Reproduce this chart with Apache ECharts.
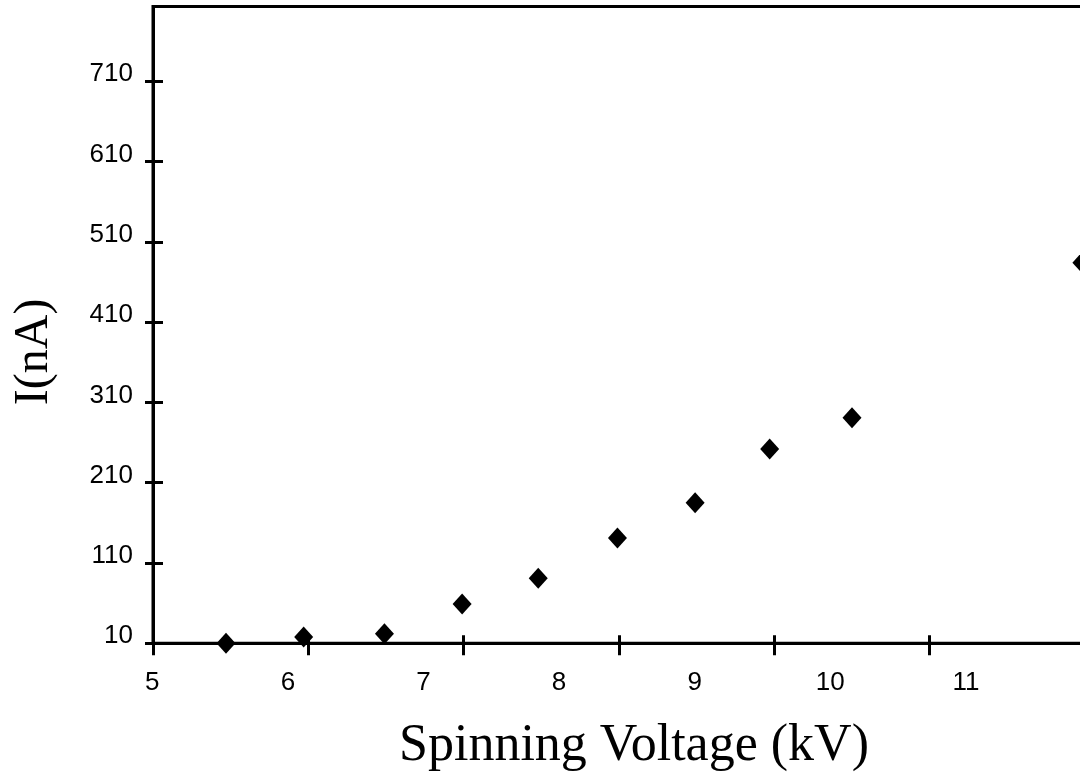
<!DOCTYPE html>
<html>
<head>
<meta charset="utf-8">
<script src="https://cdn.jsdelivr.net/npm/echarts@6/dist/echarts.min.js"></script>
<style>html,body{margin:0;padding:0;background:#fff}#c{width:1080px;height:775px}</style>
</head>
<body>
<div id="c"></div>
<script>
// Data
const voltage = [5.47, 5.97, 6.49, 6.99, 7.48, 7.99, 8.49, 8.97, 9.5, 10.98];
const current = [10, 18, 22, 59, 91, 141, 185, 252, 291, 484];
const yTicks = [10, 110, 210, 310, 410, 510, 610, 710];
const xTickLabels = [5, 6, 7, 8, 9, 10, 11];

const points = voltage.map((v, i) => [v, current[i]]);
const labelFont = 'Liberation Sans, Arial, sans-serif';
const titleFont = 'Liberation Serif, Times New Roman, serif';
const black = '#000';

const chart = echarts.init(document.getElementById('c'), null, {renderer: 'canvas'});
chart.setOption({
  backgroundColor: '#fff',
  animation: false,
  grid: [
    {left: 153, top: 6.5, width: 932, bottom: 131.7, show: true, borderColor: black, borderWidth: 3,
     backgroundColor: 'transparent', containLabel: false, outerBoundsMode: 'none'},
    {left: 152.3, top: 6.5, width: 813.6, bottom: 131.7, show: false, containLabel: false, outerBoundsMode: 'none'}
  ],
  xAxis: [
    {
      type: 'value', gridIndex: 0, min: 5, max: 11, interval: 1,
      name: 'Spinning Voltage (kV)', nameLocation: 'middle', nameGap: 77,
      nameTextStyle: {fontFamily: titleFont, fontSize: 52, color: black, padding: [0, 0, 0, 30]},
      axisLine: {show: true, onZero: false, lineStyle: {color: black, width: 3}},
      axisTick: {show: true, inside: false, length: 12, lineStyle: {color: black, width: 3}},
      axisLabel: {show: false}, splitLine: {show: false}
    },
    {
      type: 'value', gridIndex: 0, min: 5, max: 11, interval: 1, position: 'bottom',
      axisLine: {show: false},
      axisTick: {show: true, inside: true, length: 8, lineStyle: {color: black, width: 3}},
      axisLabel: {show: false}, splitLine: {show: false}
    },
    {
      type: 'value', gridIndex: 1, min: xTickLabels[0], max: xTickLabels[xTickLabels.length - 1], interval: 1,
      axisLine: {show: false}, axisTick: {show: false}, splitLine: {show: false},
      axisLabel: {show: true, margin: 27, fontFamily: labelFont, fontSize: 26, color: black,
        customValues: xTickLabels, formatter: v => String(v)}
    }
  ],
  yAxis: [
    {
      type: 'value', gridIndex: 0, min: 10, max: 803,
      name: 'I(nA)', nameLocation: 'middle', nameGap: 95, nameRotate: 90,
      nameTextStyle: {fontFamily: titleFont, fontSize: 48, color: black, padding: [0, 54, 0, 0]},
      axisLine: {show: true, onZero: false, lineStyle: {color: black, width: 3}},
      axisTick: {show: true, inside: false, length: 8, customValues: yTicks, lineStyle: {color: black, width: 3}},
      axisLabel: {show: true, margin: 20, fontFamily: labelFont, fontSize: 26, color: black,
        customValues: yTicks, verticalAlign: 'bottom', lineHeight: 14},
      splitLine: {show: false}
    },
    {
      type: 'value', gridIndex: 0, min: 10, max: 803, position: 'left',
      axisLine: {show: false},
      axisTick: {show: true, inside: true, length: 10, customValues: yTicks, lineStyle: {color: black, width: 3}},
      axisLabel: {show: false}, splitLine: {show: false}
    },
    {
      type: 'value', gridIndex: 1, min: 10, max: 803, show: false
    }
  ],
  series: [{
    type: 'scatter', xAxisIndex: 0, yAxisIndex: 0,
    data: points, symbol: 'diamond', symbolSize: [19, 21],
    itemStyle: {color: black, opacity: 1}, clip: false
  }]
});
</script>
</body>
</html>
